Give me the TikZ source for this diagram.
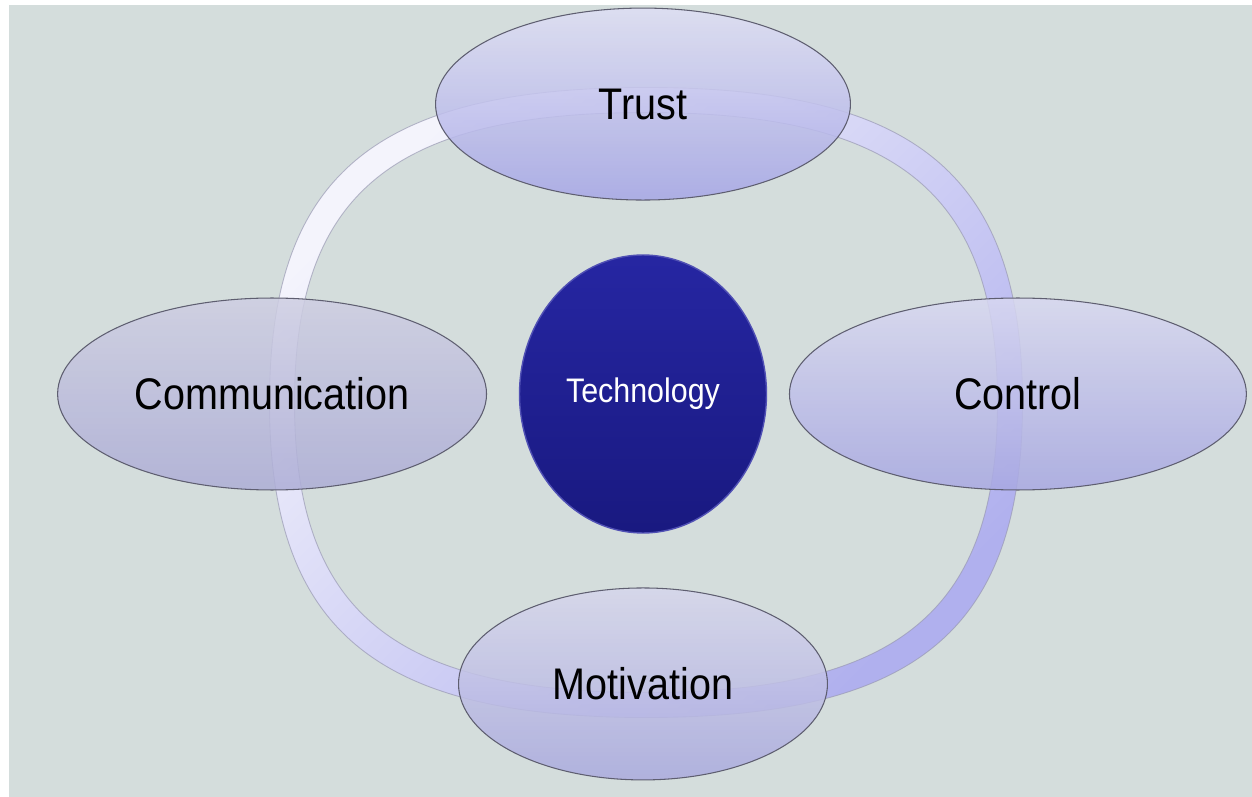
\documentclass[tikz,border=0pt]{standalone}
\usepackage{fontspec}
\setmainfont{Liberation Sans}
\usepackage{graphicx}
\usepackage{tikz}
\usetikzlibrary{shapes.geometric}

\definecolor{bg_gray}{HTML}{D4DDDC}
\definecolor{ring_light}{HTML}{F4F4FC}
\definecolor{ring_dark}{HTML}{B0B0EE}
\definecolor{ring_edge}{HTML}{9A9AB4}
\definecolor{edge_gray}{HTML}{5E5E70}
\definecolor{trust_top}{HTML}{DEDEF4}
\definecolor{trust_bottom}{HTML}{A6A6E6}
\definecolor{comm_top}{HTML}{CECEE2}
\definecolor{comm_bottom}{HTML}{ADADD6}
\definecolor{ctrl_top}{HTML}{D8D8F0}
\definecolor{ctrl_bottom}{HTML}{A8A8E2}
\definecolor{motiv_top}{HTML}{D6D6EC}
\definecolor{motiv_bottom}{HTML}{AAAADE}
\definecolor{tech_top}{HTML}{2626A2}
\definecolor{tech_bottom}{HTML}{191980}
\definecolor{tech_edge}{HTML}{5050B4}

\newcommand{\stretchy}[1]{\scalebox{1}[1.12]{#1}}

\begin{document}
\begin{tikzpicture}[x=0.02cm, y=-0.02cm]
    % Define styles
    \tikzstyle{ellipse_factor} = [ellipse, draw=edge_gray, line width=0.6pt, inner sep=0pt, minimum height=3.84cm, fill opacity=0.85, text opacity=1, font=\fontsize{22.5}{27}\selectfont]
    \tikzstyle{ellipse_core} = [ellipse, draw=tech_edge, line width=0.8pt, inner sep=0pt, minimum width=4.94cm, minimum height=5.56cm, top color=tech_top, bottom color=tech_bottom, text=white, font=\fontsize{17.3}{21}\selectfont]
    \tikzstyle{ring_band} = [even odd rule, top color=ring_light, bottom color=ring_dark, shading angle=45]
    \tikzstyle{ring_line} = [draw=ring_edge, line width=0.5pt, draw opacity=0.7]

    % Background
    \useasboundingbox (0,0) rectangle (1252,797);
    \fill[bg_gray] (9,5) rectangle (1252,797);

    % Ring
    \shade[ring_band] (269.5,402.5) .. controls (269.5,175.7) and (374.9,87.5) .. (646,87.5) .. controls (917.1,87.5) and (1022.5,175.7) .. (1022.5,402.5) .. controls (1022.5,629.3) and (917.1,717.5) .. (646,717.5) .. controls (374.9,717.5) and (269.5,629.3) .. (269.5,402.5) -- cycle
        (294.5,402.5) .. controls (294.5,193.7) and (392.9,112.5) .. (646,112.5) .. controls (898.1,112.5) and (997.5,193.7) .. (997.5,402.5) .. controls (997.5,611.3) and (898.1,692.5) .. (646,692.5) .. controls (392.9,692.5) and (294.5,611.3) .. (294.5,402.5) -- cycle;
    \path[ring_line] (269.5,402.5) .. controls (269.5,175.7) and (374.9,87.5) .. (646,87.5) .. controls (917.1,87.5) and (1022.5,175.7) .. (1022.5,402.5) .. controls (1022.5,629.3) and (917.1,717.5) .. (646,717.5) .. controls (374.9,717.5) and (269.5,629.3) .. (269.5,402.5) -- cycle;
    \path[ring_line] (294.5,402.5) .. controls (294.5,193.7) and (392.9,112.5) .. (646,112.5) .. controls (898.1,112.5) and (997.5,193.7) .. (997.5,402.5) .. controls (997.5,611.3) and (898.1,692.5) .. (646,692.5) .. controls (392.9,692.5) and (294.5,611.3) .. (294.5,402.5) -- cycle;

    % Nodes
    \node [ellipse_core] (technology) at (643,394) {\stretchy{Technology}};

    \node [ellipse_factor, top color=trust_top, bottom color=trust_bottom, minimum width=8.3cm, above of=technology, node distance=5.8cm] (trust) {\stretchy{Trust}};
    \node [ellipse_factor, top color=motiv_top, bottom color=motiv_bottom, minimum width=7.38cm, below of=technology, node distance=5.8cm] (motivation) {\stretchy{Motivation}};
    \node [ellipse_factor, top color=comm_top, bottom color=comm_bottom, minimum width=8.58cm, left of=technology, node distance=7.42cm] (communication) {\stretchy{Communication}};
    \node [ellipse_factor, top color=ctrl_top, bottom color=ctrl_bottom, minimum width=9.14cm, right of=technology, node distance=7.5cm] (control) {\stretchy{Control}};
\end{tikzpicture}
\end{document}
